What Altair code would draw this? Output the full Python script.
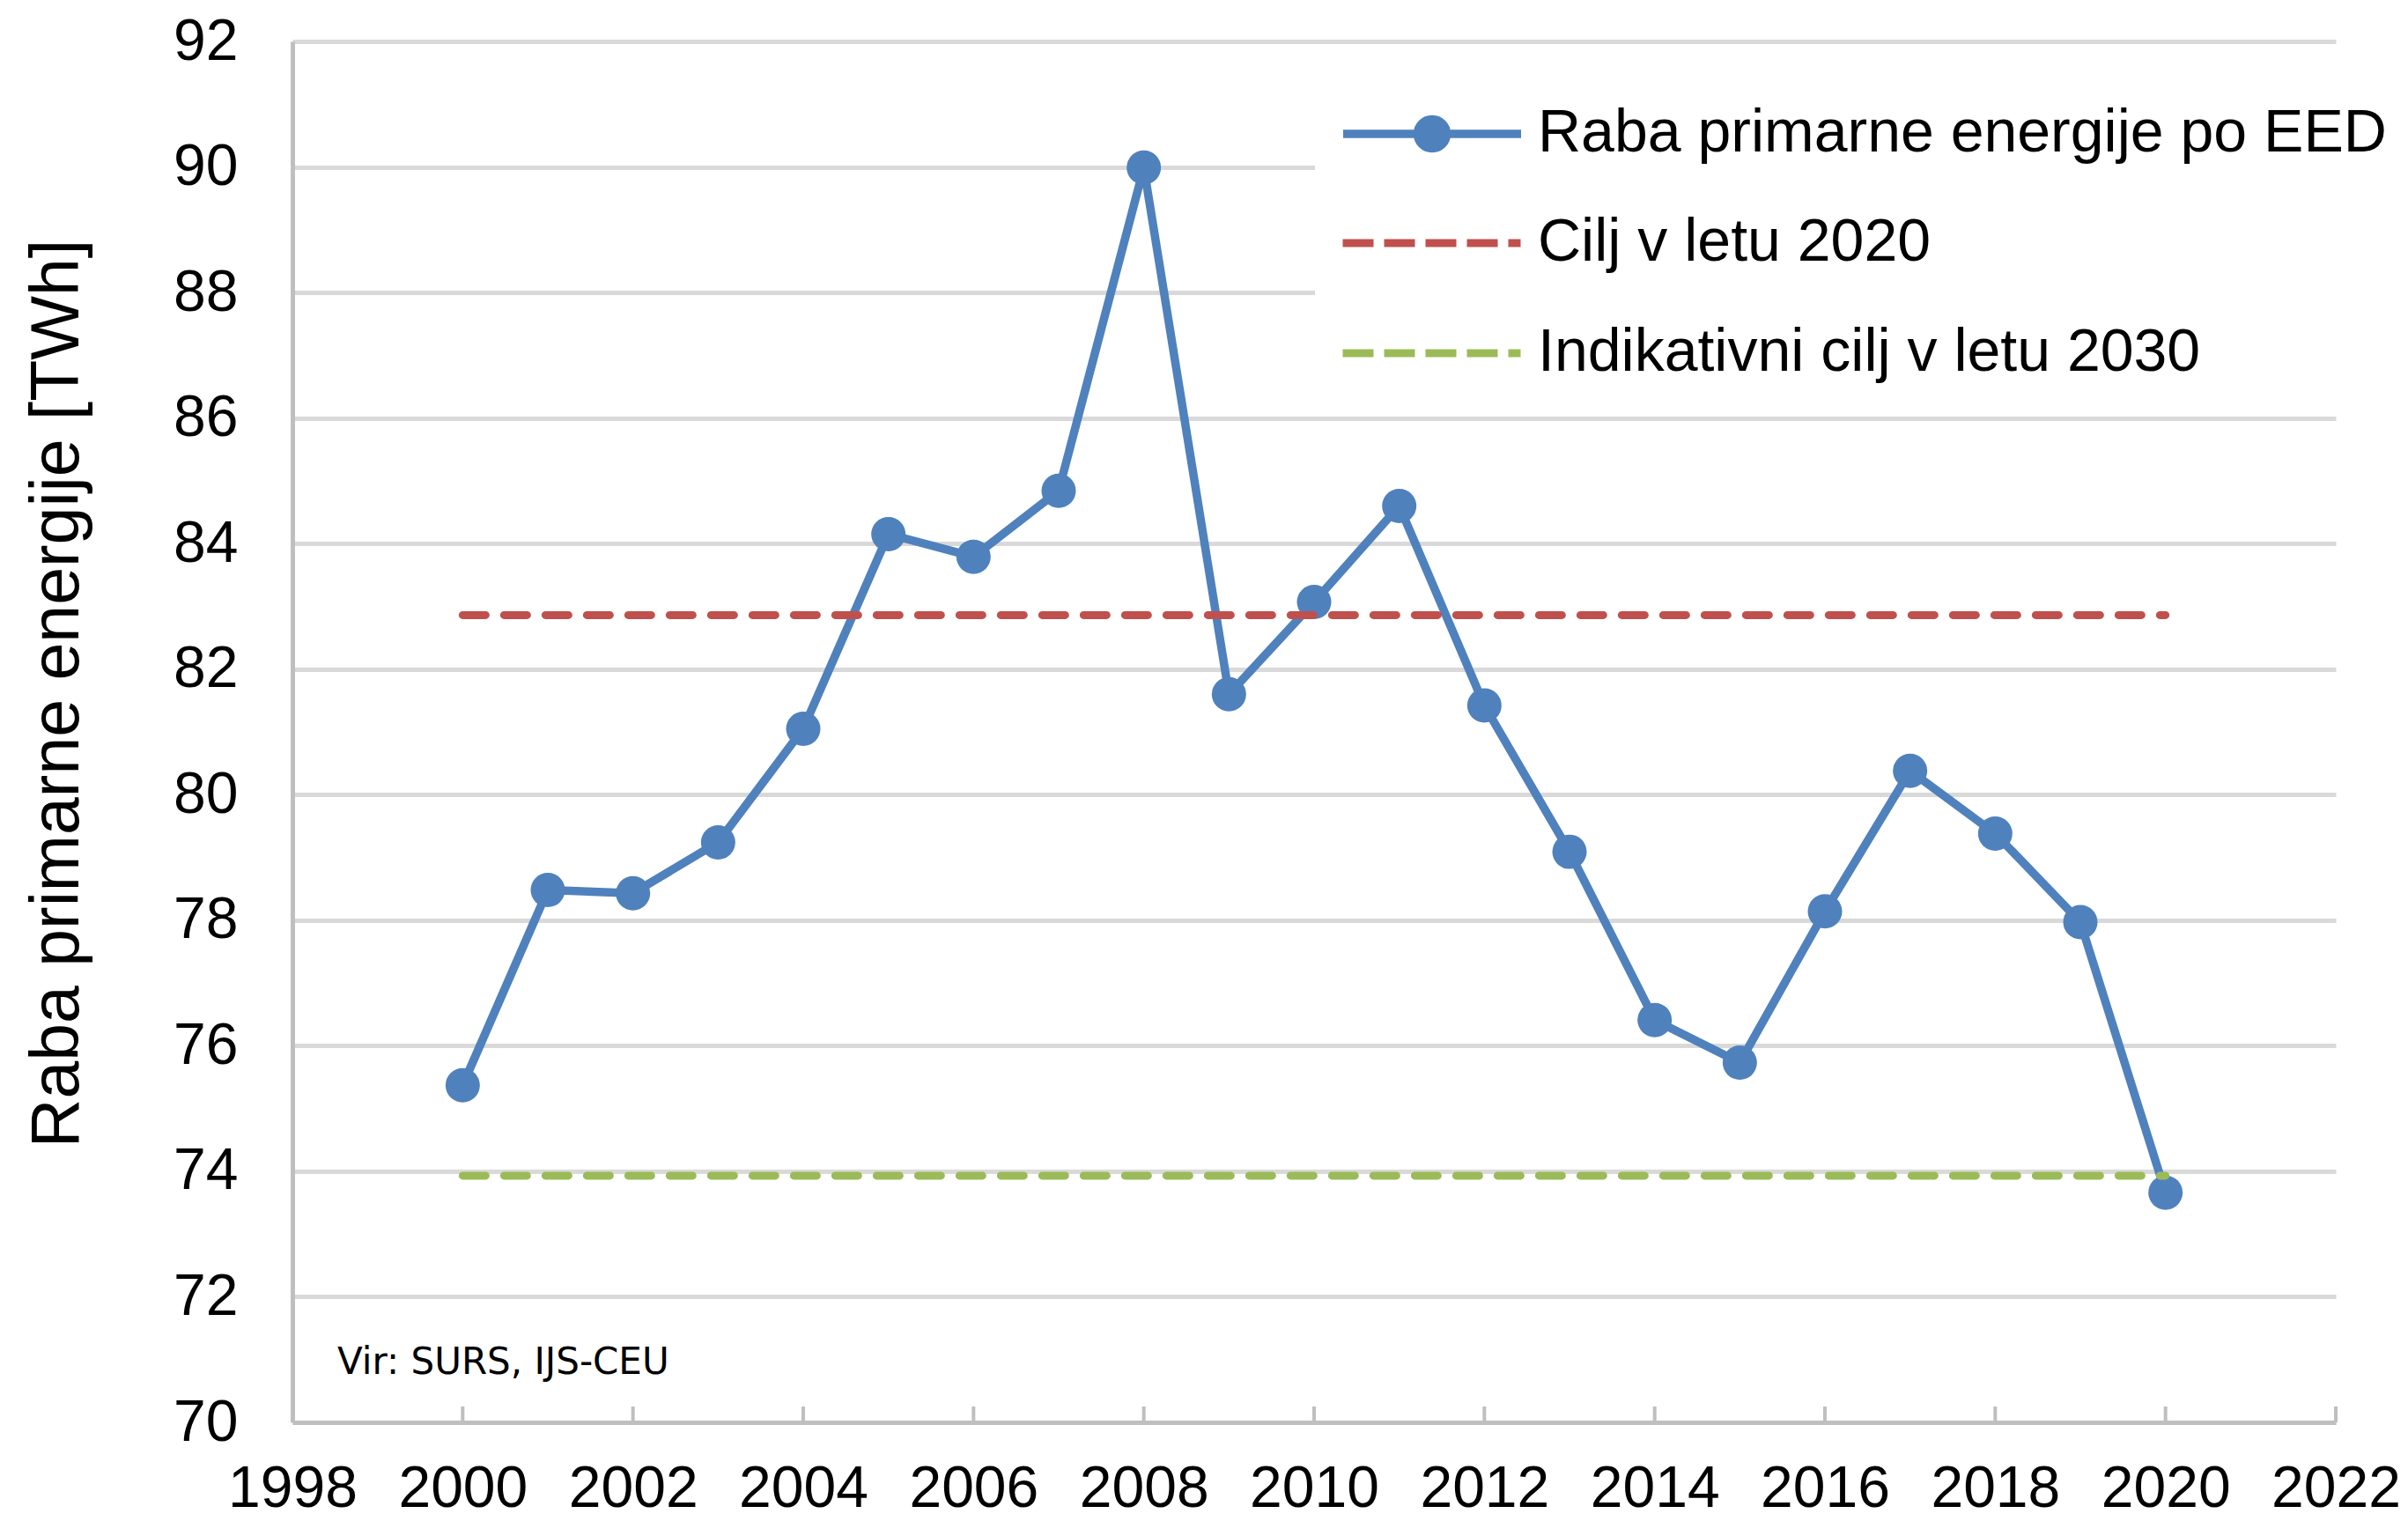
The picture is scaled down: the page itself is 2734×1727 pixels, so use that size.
import altair as alt
import pandas as pd

# ---------------- data ----------------
years = list(range(2000, 2021))
primary_energy = [75.37, 78.48, 78.43, 79.24, 81.05, 84.15, 83.79, 84.84, 89.99, 81.60,
                  83.07, 84.60, 81.42, 79.09, 76.41, 75.73, 78.14, 80.38, 79.38, 77.97, 73.66]
target_years = [2000, 2020]
target_2020 = [82.86, 82.86]
target_2030 = [73.93, 73.93]
series_names = ["Raba primarne energije po EED", "Cilj v letu 2020", "Indikativni cilj v letu 2030"]
series_colors = ["#4F81BD", "#C0504D", "#9BBB59"]
x_ticks = list(range(1998, 2023, 2))
y_ticks = list(range(70, 93, 2))
y_title = "Raba primarne energije [TWh]"
source_note = "Vir: SURS, IJS-CEU"

df_blue = pd.DataFrame({"year": years, "value": primary_energy, "series": series_names[0]})
df_targets = pd.concat([
    pd.DataFrame({"year": target_years, "value": target_2020, "series": series_names[1]}),
    pd.DataFrame({"year": target_years, "value": target_2030, "series": series_names[2]}),
])
df_ticks = pd.DataFrame({"year": x_ticks})
df_note = pd.DataFrame({"t": [source_note]})

# ---------------- styling ----------------
W, H = 2320, 1568
FONT = "Liberation Sans"
AXIS_COL = "#BFBFBF"
GRID_COL = "#D9D9D9"
PLOT_DASH = [26, 21]
LEGEND_DASH = [35, 12]

x_scale = alt.Scale(domain=[1998, 2022], nice=False, zero=False)
y_scale = alt.Scale(domain=[70, 92], nice=False, zero=False)
blue_scale = alt.Scale(domain=series_names[:1], range=series_colors[:1])
target_scale = alt.Scale(domain=series_names[1:], range=series_colors[1:])
dash_scale = alt.Scale(domain=series_names[1:], range=[PLOT_DASH, PLOT_DASH])

x_axis = alt.Axis(values=x_ticks, format="d", grid=False, domainColor=AXIS_COL, domainWidth=5,
                  ticks=False, tickSize=0, labelPadding=43, labelFont=FONT, labelFontSize=66,
                  labelColor="#000000", labelFlush=False, labelOverlap=False, title=None, zindex=1)
y_axis = alt.Axis(values=y_ticks, grid=True, gridColor=GRID_COL, gridWidth=5,
                  domainColor=AXIS_COL, domainWidth=5, ticks=False, tickSize=0,
                  labelPadding=62, labelFont=FONT, labelFontSize=66, labelColor="#000000",
                  labelOverlap=False, title=y_title, titleFont=FONT, titleFontSize=77,
                  titleFontWeight="normal", titleColor="#000000", titleAngle=270,
                  titleX=-244, titleY=740, titleAlign="center", titleBaseline="alphabetic")

BLUE_PATH = ("M-1,0L1,0M0.163,0A0.163,0.163,0,1,1,-0.163,0"
             "A0.163,0.163,0,1,1,0.163,0Z")

common_legend = dict(orient="none", direction="vertical", padding=27, fillColor="white",
                     symbolSize=40804, clipHeight=76, rowPadding=49,
                     labelFont=FONT, labelFontSize=68, labelColor="#000000", labelLimit=0)

# the blue legend box is extended downwards (empty bottom title) so that, like the
# reference legend box, it hides the gridlines at 90 and 88 up to the right edge
legend_blue = alt.Legend(legendX=1161, legendY=40, symbolType=BLUE_PATH,
                         symbolFillColor=series_colors[0], symbolStrokeWidth=9.5,
                         labelOffset=14, title="\u00a0", titleOrient="bottom",
                         titleFontSize=120, titlePadding=10, **common_legend)
legend_targets = alt.Legend(legendX=1161, legendY=164, symbolType="M-1,0L1,0",
                            symbolStrokeWidth=9, symbolDash=LEGEND_DASH, labelOffset=15,
                            title=None, **common_legend)

X = alt.X("year:Q", scale=x_scale, axis=x_axis)
Y = alt.Y("value:Q", scale=y_scale, axis=y_axis)

tick_rules = alt.Chart(df_ticks).mark_rule(color=AXIS_COL, strokeWidth=4).encode(
    x=X, y=alt.value(H), y2=alt.value(H - 18))

blue_line = alt.Chart(df_blue).mark_line(strokeWidth=9.5, strokeCap="round", strokeJoin="round").encode(
    x=X, y=Y,
    color=alt.Color("series:N", scale=blue_scale, legend=legend_blue),
)

blue_points = alt.Chart(df_blue).mark_circle(size=1520, color=series_colors[0], opacity=1).encode(
    x=X, y=Y)

target_lines = alt.Chart(df_targets).mark_line(strokeWidth=9, strokeCap="round").encode(
    x=X, y=Y,
    color=alt.Color("series:N", scale=target_scale, legend=legend_targets),
    strokeDash=alt.StrokeDash("series:N", scale=dash_scale, legend=None),
)

note = alt.Chart(df_note).mark_text(font="DejaVu Sans", fontSize=42, align="left",
                                    baseline="alphabetic", color="#000000").encode(
    x=alt.value(51), y=alt.value(1513), text="t:N")

chart = alt.layer(tick_rules, blue_line, blue_points, target_lines, note).resolve_scale(
    color="independent"
).properties(
    width=W, height=H,
    autosize=alt.AutoSizeParams(type="none"),
    padding={"left": 324, "top": 39, "right": 74, "bottom": 112},
    background="white",
).configure_view(stroke=None)

chart.save("out.html", embed_options={"renderer": "svg", "actions": False})
